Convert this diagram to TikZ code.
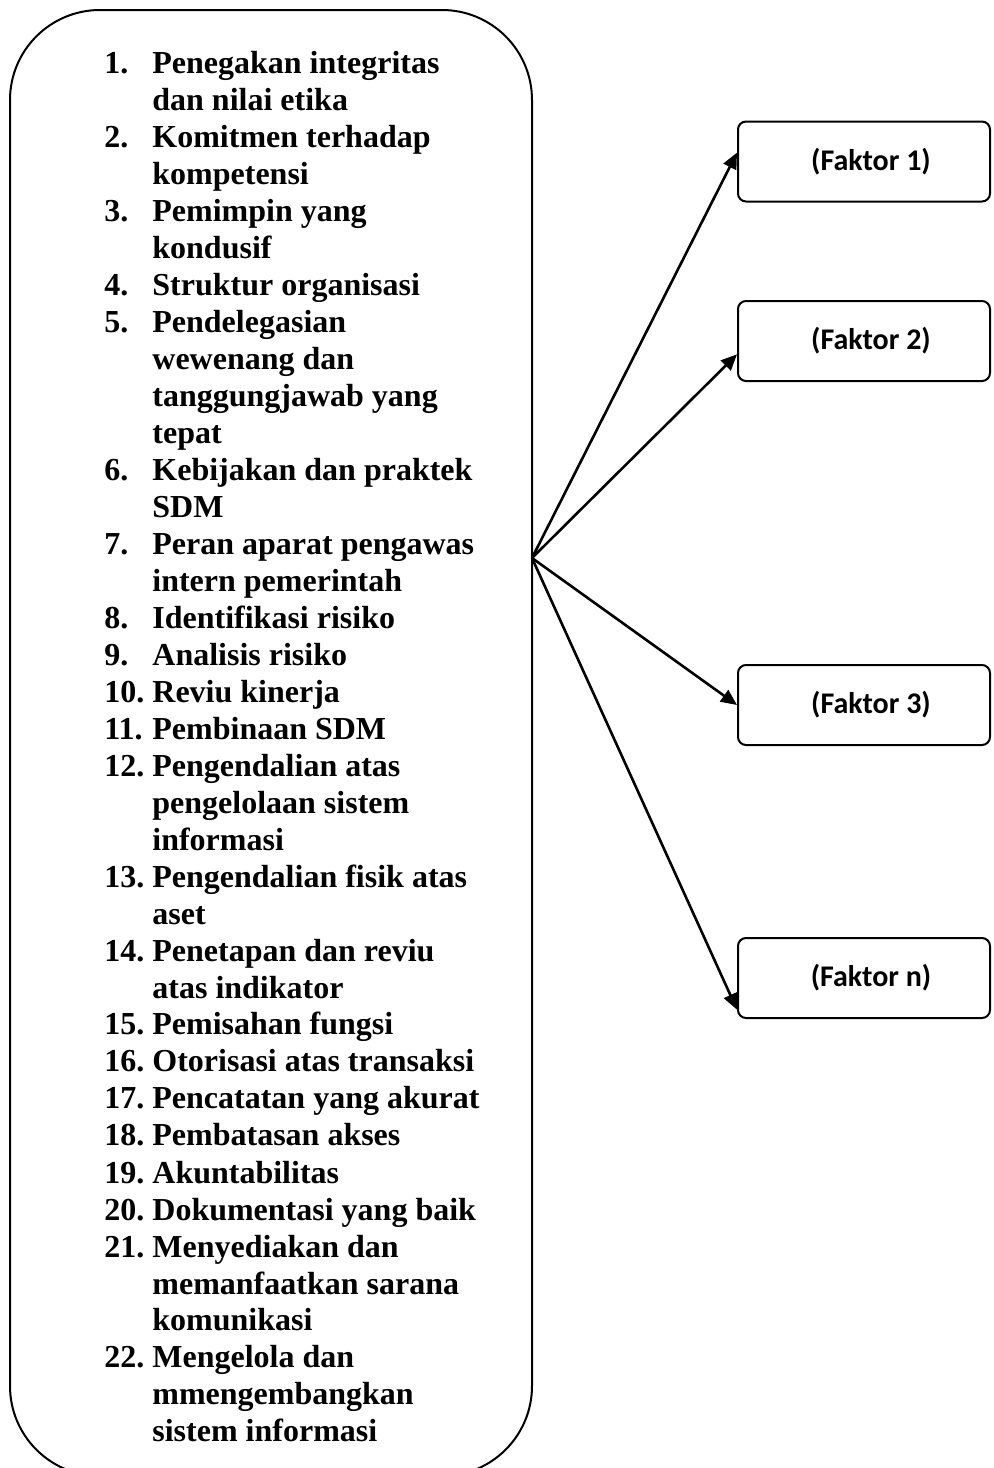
\documentclass[tikz,border=0pt]{standalone}
\usepackage{fontspec}
\setmainfont{Liberation Serif}
\newfontfamily\faktorfont{Carlito}
\usepackage{array}
\usetikzlibrary{arrows.meta}

\begin{document}
\begin{tikzpicture}[x=0.5pt,y=-0.5pt,
  faktor/.style={draw,line width=1pt,rounded corners=4pt,minimum width=126pt,
    minimum height=40pt,font=\faktorfont\bfseries\fontsize{15}{17}\selectfont},
  panah/.style={line width=1.3pt,-{Triangle[length=8pt,width=7pt]}}]
  \useasboundingbox (0,0) rectangle (993,1468);
  \clip (0,0) rectangle (993,1468);
  % Big box with the list of elements
  \draw[line width=1pt,rounded corners=45pt] (10,10) rectangle (532,1476);
  \node[anchor=base west,inner sep=0pt,font=\bfseries\fontsize{16}{18.5}\selectfont]
    (daftar) at (104,73) {%
    \begin{tabular}[t]{@{}p{24pt}@{}l@{}}
      1. & Penegakan integritas\\
         & dan nilai etika\\
      2. & Komitmen terhadap\\
         & kompetensi\\
      3. & Pemimpin yang\\
         & kondusif\\
      4. & Struktur organisasi\\
      5. & Pendelegasian\\
         & wewenang dan\\
         & tanggungjawab yang\\
         & tepat\\
      6. & Kebijakan dan praktek\\
         & SDM\\
      7. & Peran aparat pengawas\\
         & intern pemerintah\\
      8. & Identifikasi risiko\\
      9. & Analisis risiko\\
      10. & Reviu kinerja\\
      11. & Pembinaan SDM\\
      12. & Pengendalian atas\\
          & pengelolaan sistem\\
          & informasi\\
      13. & Pengendalian fisik atas\\
          & aset\\
      14. & Penetapan dan reviu\\
          & atas indikator\\
      15. & Pemisahan fungsi\\
      16. & Otorisasi atas transaksi\\
      17. & Pencatatan yang akurat\\
      18. & Pembatasan akses\\
      19. & Akuntabilitas\\
      20. & Dokumentasi yang baik\\
      21. & Menyediakan dan\\
          & memanfaatkan sarana\\
          & komunikasi\\
      22. & Mengelola dan\\
          & mmengembangkan\\
          & sistem informasi
    \end{tabular}};
  \coordinate (pusat) at (532,558);
  % Factors
  \node[faktor] (f1) at (864,161.5) {\hspace*{7pt}(Faktor 1)};
  \node[faktor] (f2) at (864,341) {\hspace*{7pt}(Faktor 2)};
  \node[faktor] (f3) at (864,705) {\hspace*{7pt}(Faktor 3)};
  \node[faktor] (fn) at (864,978) {\hspace*{7pt}(Faktor n)};
  % Arrows
  \draw[panah] (pusat) -- (f1.176);
  \draw[panah] (pusat) -- (f2.186);
  \draw[panah] (pusat) -- (f3.west);
  \draw[panah] (pusat) -- (fn.194);
\end{tikzpicture}
\end{document}
